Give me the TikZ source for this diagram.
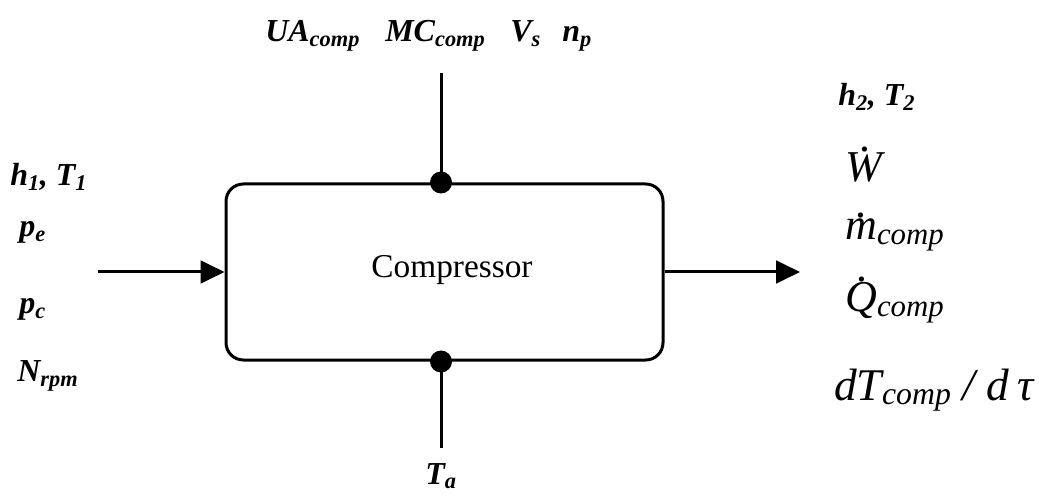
\documentclass[tikz,border=0pt]{standalone}
\usepackage{fontspec}
\setmainfont{Liberation Serif}
\usetikzlibrary{arrows.meta,calc}
\newcommand\dotac[2][0pt]{{\setbox0=\hbox{#2}\hbox to\wd0{\hss\kern#1\raisebox{\dimexpr\ht0+0.04em\relax}{.}\hss}\kern-\wd0\box0}}
\tikzset{
  lbl/.style={font=\fontsize{24}{28}\selectfont\bfseries\itshape, inner sep=0pt, anchor=base west},
  outl/.style={font=\fontsize{33}{38}\selectfont\itshape, inner sep=0pt, anchor=base west},
  conn/.style={line width=2.25pt},
  arr/.style={conn, -{Triangle[length=18pt,width=17pt]}},
  blob/.style={circle, fill=black, inner sep=0pt, minimum size=16.5pt},
}
\begin{document}
\begin{tikzpicture}[x=0.75pt,y=-0.75pt]
\useasboundingbox (0,0) rectangle (1039,502);
\node[draw, line width=2.25pt, rounded corners=13pt, minimum width=327.75pt, minimum height=132pt] (box) at (444.5,272) {};
\node[font=\fontsize{25}{30}\selectfont, inner sep=0pt] (lab) at (452,270) {Compressor};
% inputs/outputs
\coordinate (in) at (98,272);
\coordinate (out) at (800,272);
\draw[arr] (in) -- (box.west);
\draw[arr] (box.east) -- (out);
\coordinate (ntop) at ($(box.north)+(-3.5,0)$);
\coordinate (nbot) at ($(box.south)+(-3.5,0)$);
\coordinate (topend) at (441,73);
\coordinate (botend) at (441,448);
\draw[conn] (topend) -- (ntop);
\draw[conn] (nbot) -- (botend);
\node[blob] (dtop) at (ntop) {};
\node[blob] (dbot) at (nbot) {};
% top labels
\node[lbl] (ua) at (265,42) {UA\textsubscript{comp}};
\node[lbl] (mc) at (385,42) {MC\textsubscript{comp}};
\node[lbl] (vs) at (510,42) {V\textsubscript{s}};
\node[lbl] (np) at (562,42) {n\textsubscript{p}};
% left labels
\node[lbl] (h1) at (10,186) {h\textsubscript{1}, T\textsubscript{1}};
\node[lbl] (pe) at (19,237) {p\textsubscript{e}};
\node[lbl] (pc) at (19,314) {p\textsubscript{c}};
\node[lbl] (nr) at (17,382) {N\textsubscript{rpm}};
% bottom
\node[lbl, anchor=base] (ta) at (441,484) {T\textsubscript{a}};
% right labels
\node[lbl] (h2) at (838,106) {h\textsubscript{2}, T\textsubscript{2}};
\node[outl] (w) at (845,182) {\dotac[3pt]{W}};
\node[outl] (m) at (845,240) {\dotac[1pt]{m}\textsubscript{comp}};
\node[outl] (q) at (845,312) {\dotac[3pt]{Q}\textsubscript{comp}};
\node[outl, font=\fontsize{34}{40}\selectfont\itshape] (dt) at (834,400) {dT\textsubscript{comp} / d\,τ};
\end{tikzpicture}
\end{document}
